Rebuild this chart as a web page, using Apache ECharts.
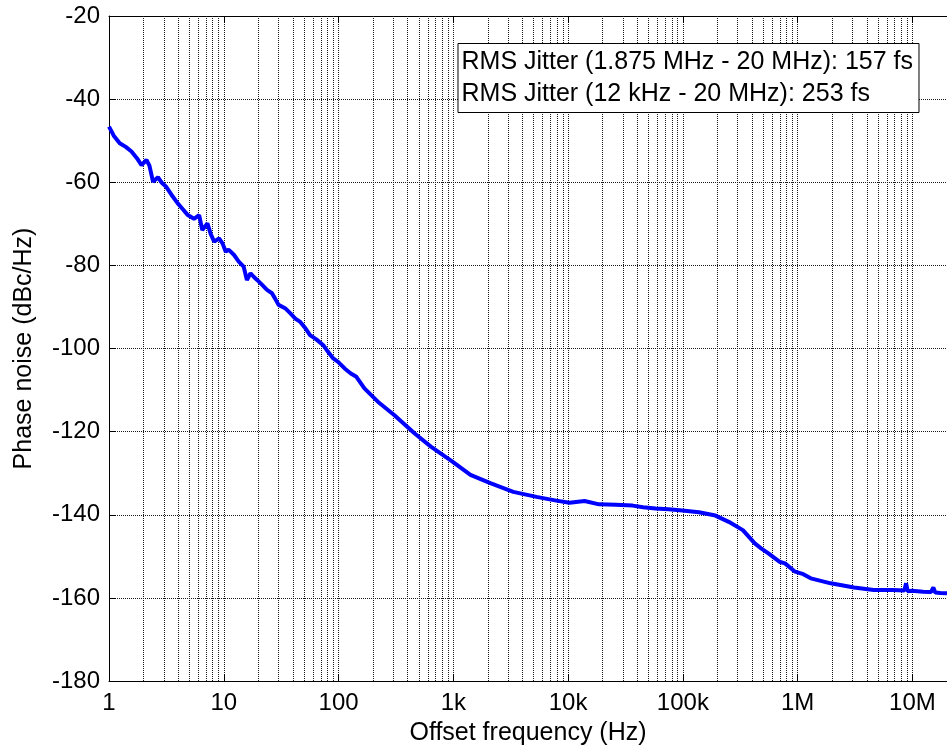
<!DOCTYPE html>
<html>
<head>
<meta charset="utf-8">
<script src="https://cdn.jsdelivr.net/npm/echarts@6/dist/echarts.min.js"></script>
<style>html,body{margin:0;padding:0;background:#fff;}#c{width:947px;height:754px;}</style>
</head>
<body>
<div id="c"></div>
<script>
// ---- data ----
const freqHz = [1, 1.1, 1.24, 1.4, 1.57, 1.75, 1.92, 2.12, 2.25, 2.42, 2.67, 2.9, 3.15, 3.5, 3.97, 4.4, 4.86, 5.5, 6.1, 6.5, 7.2, 7.7, 8.25, 9.1, 9.75, 10.4, 11, 12.3, 13.5, 14.9, 15.9, 17.1, 18.3, 19.5, 21.6, 23.8, 26.3, 28, 30, 34.2, 37.9, 42, 46.4, 51, 56.4, 64, 73.6, 81, 89.9, 99, 113, 128, 143, 168, 220, 305, 458, 637, 982, 1410, 2100, 3330, 5300, 7900, 10300, 13900, 18600, 26000, 36500, 45000, 58000, 75000, 99000, 138000, 192000, 251000, 333000, 423000, 480000, 556000, 693000, 775000, 950000, 1120000, 1300000, 1940000, 3100000, 4600000, 6700000, 8500000, 8800000, 9100000, 9900000, 12400000, 14500000, 15200000, 15800000, 17500000, 20000000];
const phaseNoise = [-46.6, -48.8, -50.6, -51.5, -52.6, -54.2, -55.9, -54.6, -56.0, -59.9, -58.8, -60.2, -61.1, -63.0, -65.1, -66.5, -67.9, -68.8, -67.9, -71.5, -69.9, -72.5, -74.3, -73.5, -74.7, -76.7, -76.2, -77.5, -79.1, -80.3, -83.5, -81.9, -82.8, -83.5, -84.7, -85.9, -86.7, -88.0, -89.5, -90.3, -91.5, -92.8, -93.6, -95.0, -96.8, -97.8, -99.2, -100.8, -102.4, -103.2, -104.8, -106.0, -106.8, -109.6, -112.8, -116.0, -120.4, -123.6, -127.2, -130.4, -132.4, -134.5, -135.7, -136.6, -137.1, -136.7, -137.5, -137.6, -137.8, -138.2, -138.5, -138.7, -139.0, -139.4, -140.2, -141.7, -143.7, -146.9, -148.1, -149.3, -151.3, -151.7, -153.7, -154.3, -155.3, -156.5, -157.5, -158.1, -158.1, -158.2, -156.5, -158.4, -158.3, -158.5, -158.6, -157.5, -158.7, -158.8, -158.9];
const xTickLabels = ['1', '10', '100', '1k', '10k', '100k', '1M', '10M'];
const decades = [1, 10, 100, 1000, 10000, 100000, 1000000, 10000000];
const minorMultipliers = [2, 3, 4, 5, 6, 7, 8, 9];
const xMin = 1, xMax = 20000000;
const yMin = -180, yMax = -20, yStep = 20;
const jitterLines = ['RMS Jitter (1.875 MHz - 20 MHz): 157 fs', 'RMS Jitter (12 kHz - 20 MHz): 253 fs'];
const xName = 'Offset frequency (Hz)';
const yName = 'Phase noise (dBc/Hz)';

// ---- build ----
const minorVals = [];
decades.forEach(d => minorMultipliers.forEach(m => { const v = d * m; if (v < xMax) minorVals.push(v); }));
const seriesData = freqHz.map((f, i) => [f, phaseNoise[i]]);
const FONT = 'Liberation Sans, Arial, Helvetica, sans-serif';
const gridStyle = { color: '#1a1a1a', width: 1, type: [1, 1] };

function fmtX(v) {
  const p = Math.log10(v);
  const r = Math.round(p);
  if (Math.abs(p - r) < 1e-6 && r >= 0 && r < xTickLabels.length) return xTickLabels[r];
  return '';
}

const chart = echarts.init(document.getElementById('c'), null, { renderer: 'canvas' });
chart.setOption({
  animation: false,
  backgroundColor: '#fff',
  title: {
    text: jitterLines.join('\n'),
    right: 28, top: 43,
    borderColor: '#000', borderWidth: 1,
    backgroundColor: '#fff',
    padding: [3, 6, 3, 4],
    textStyle: { fontFamily: FONT, fontSize: 25, fontWeight: 'normal', color: '#000', lineHeight: 32 },
    z: 10
  },
  grid: { left: 109, top: 16, bottom: 73, right: -7, containLabel: false },
  xAxis: [{
    type: 'log', logBase: 10, min: xMin, max: xMax,
    name: xName, nameLocation: 'middle', nameGap: 40,
    nameTextStyle: { fontFamily: FONT, fontSize: 25, color: '#000' },
    axisLine: { show: true, lineStyle: { color: '#000', width: 1 } },
    axisTick: { show: true, inside: true, length: 7, lineStyle: { color: '#000' } },
    axisLabel: { formatter: fmtX, fontFamily: FONT, fontSize: 24, color: '#000', margin: 10, showMaxLabel: false },
    splitLine: { show: true, lineStyle: gridStyle },
    minorTick: { show: false }
  }, {
    type: 'log', logBase: 10, min: xMin, max: xMax, position: 'top',
    axisLine: { show: true, lineStyle: { color: '#000', width: 1 } },
    axisTick: { show: true, inside: true, length: 7, lineStyle: { color: '#000' } },
    axisLabel: { show: false },
    splitLine: { show: false }
  }],
  yAxis: {
    type: 'value', min: yMin, max: yMax, interval: yStep,
    name: yName, nameLocation: 'middle', nameGap: 72,
    nameTextStyle: { fontFamily: FONT, fontSize: 25, color: '#000' },
    axisLine: { show: true, lineStyle: { color: '#000', width: 1 } },
    axisTick: { show: true, inside: true, length: 7, lineStyle: { color: '#000' } },
    axisLabel: { fontFamily: FONT, fontSize: 24, color: '#000', margin: 9 },
    splitLine: { show: true, lineStyle: gridStyle }
  },
  series: [{
    name: 'minorGrid', type: 'line', data: [], silent: true,
    markLine: {
      silent: true, symbol: ['none', 'none'], animation: false,
      label: { show: false },
      lineStyle: gridStyle,
      emphasis: { disabled: true },
      data: minorVals.map(v => ({ xAxis: v }))
    }
  }, {
    name: 'Phase noise', type: 'line', data: seriesData,
    showSymbol: false, symbol: 'none', smooth: false,
    lineStyle: { color: '#0000ff', width: 4 },
    z: 5
  }]
});
</script>
</body>
</html>
